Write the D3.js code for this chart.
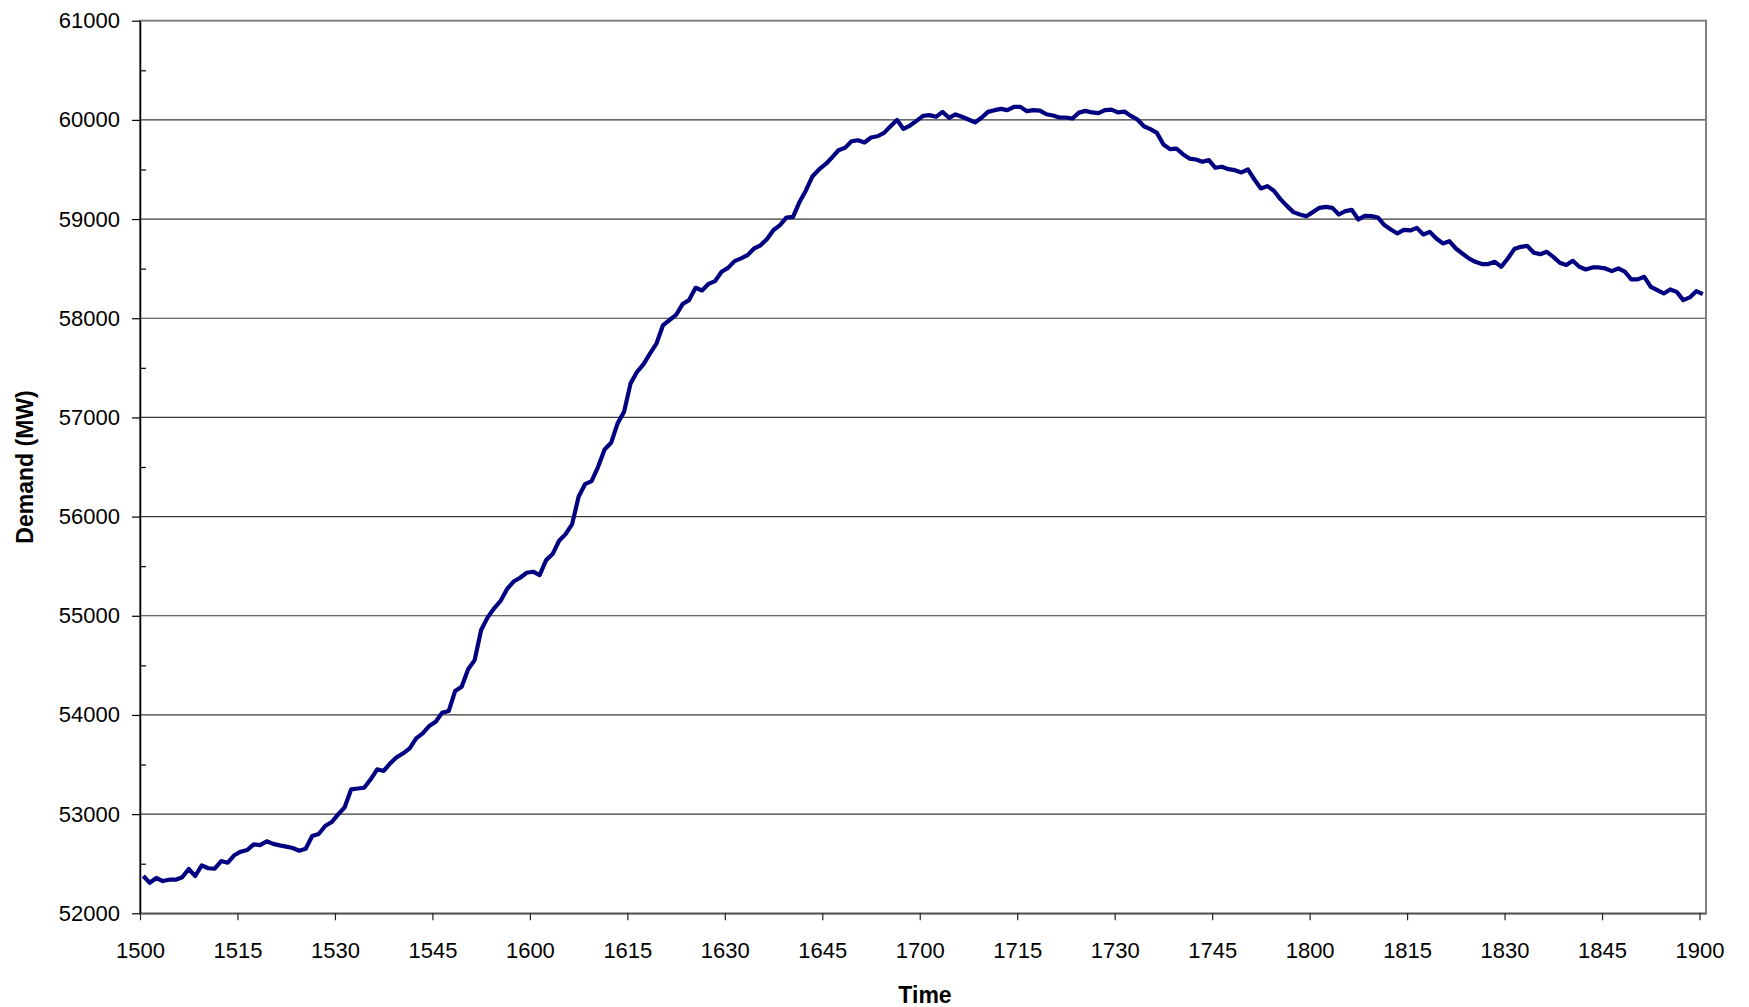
<!DOCTYPE html>
<html>
<head>
<meta charset="utf-8">
<script src="https://cdn.jsdelivr.net/npm/d3@7"></script>
<style>
  body { margin: 0; background: #fff; }
  svg { display: block; font-family: "Liberation Sans", Arial, sans-serif; }
</style>
</head>
<body>
<svg id="svg" width="1749" height="1007"></svg>
<script>
// tick labels on the time axis, one every 15 minutes
var tickLabels = ["1500","1515","1530","1545","1600","1615","1630","1645",
                  "1700","1715","1730","1745","1800","1815","1830","1845","1900"];

// demand (MW), one reading per minute from 1500 to 1900
var demand = [
  52376,52308,52356,52325,52339,52339,52363,52447,52376,52484,
  52454,52450,52527,52510,52585,52621,52638,52695,52688,52726,
  52700,52685,52672,52658,52631,52651,52779,52800,52880,52920,
  52998,53069,53250,53258,53266,53351,53452,53435,53512,53573,
  53613,53663,53764,53815,53888,53932,54022,54039,54241,54284,
  54460,54553,54856,54984,55075,55151,55270,55345,55383,55434,
  55444,55410,55561,55622,55756,55823,55924,56200,56328,56358,
  56502,56677,56744,56940,57057,57343,57460,57538,57646,57747,
  57931,57982,58033,58143,58183,58307,58280,58347,58374,58468,
  58508,58576,58603,58636,58703,58735,58800,58890,58939,59016,
  59022,59173,59291,59432,59500,59553,59621,59694,59718,59785,
  59795,59772,59822,59835,59869,59936,60000,59909,59943,59990,
  60040,60048,60031,60081,60021,60055,60031,60004,59974,60021,
  60081,60098,60111,60098,60131,60131,60088,60098,60094,60057,
  60044,60024,60024,60014,60073,60091,60075,60068,60098,60104,
  60075,60084,60040,60004,59936,59906,59869,59752,59705,59711,
  59654,59610,59600,59577,59594,59517,59527,59503,59493,59470,
  59500,59399,59309,59332,59285,59201,59133,59070,59046,59029,
  59070,59113,59123,59113,59046,59080,59093,58996,59032,59029,
  59016,58939,58895,58855,58890,58885,58911,58845,58871,58804,
  58754,58777,58703,58653,58603,58569,58546,58546,58569,58519,
  58603,58697,58720,58730,58660,58646,58670,58619,58559,58536,
  58579,58519,58492,58512,58512,58502,58475,58502,58469,58392,
  58392,58418,58317,58283,58250,58290,58266,58183,58210,58273,
  58243
];

var yTicks = [52000,53000,54000,55000,56000,57000,58000,59000,60000,61000];
var yMinor = [52500,53500,54500,55500,56500,57500,58500,59500,60500];

var plotLeft = 140, plotRight = 1706, plotTop = 20.7, plotBottom = 913.3;

var svg = d3.select("#svg");

var x = d3.scaleLinear().domain([0, demand.length]).range([plotLeft, plotRight]);
var y = d3.scaleLinear().domain([52000, 61000]).range([plotBottom, plotTop]);

// horizontal gridlines
svg.append("g")
  .selectAll("line")
  .data(yTicks.slice(1, -1))
  .join("line")
    .attr("x1", plotLeft).attr("x2", plotRight)
    .attr("y1", d => y(d)).attr("y2", d => y(d))
    .attr("stroke", "#3a3a3a")
    .attr("stroke-width", 1.2);

// plot area border
svg.append("rect")
  .attr("x", plotLeft).attr("y", plotTop)
  .attr("width", plotRight - plotLeft).attr("height", plotBottom - plotTop)
  .attr("fill", "none")
  .attr("stroke", "#808080")
  .attr("stroke-width", 2);

// y axis
var yAxis = svg.append("g")
  .attr("transform", "translate(" + plotLeft + ",0)")
  .call(d3.axisLeft(y).tickValues(yTicks).tickSize(8).tickPadding(12).tickSizeOuter(0)
          .tickFormat(d3.format("d")));
yAxis.select(".domain").attr("stroke", "#000").attr("stroke-width", 1.5);
yAxis.selectAll(".tick line").attr("stroke", "#000").attr("stroke-width", 1.2);
yAxis.selectAll("text").style("font-size", "22px").attr("fill", "#000");

// minor ticks, inside the plot
var yMinorAxis = svg.append("g")
  .attr("transform", "translate(" + plotLeft + ",0)")
  .call(d3.axisRight(y).tickValues(yMinor).tickSize(6).tickFormat(""));
yMinorAxis.select(".domain").remove();
yMinorAxis.selectAll(".tick line").attr("stroke", "#000").attr("stroke-width", 1.2);

// x axis
var xTickIdx = tickLabels.map((d, k) => k * 15);
var xAxis = svg.append("g")
  .attr("transform", "translate(0," + plotBottom + ")")
  .call(d3.axisBottom(x).tickValues(xTickIdx).tickSize(7).tickPadding(22).tickSizeOuter(0)
          .tickFormat((d, k) => tickLabels[k]));
xAxis.select(".domain").attr("stroke", "#555").attr("stroke-width", 1.5);
xAxis.selectAll(".tick line").attr("stroke", "#222").attr("stroke-width", 1.2);
xAxis.selectAll("text").style("font-size", "22px").attr("fill", "#000");

// demand line
var line = d3.line()
  .x((d, i) => x(i + 0.5))
  .y(d => y(d));

svg.append("path")
  .datum(demand)
  .attr("d", line)
  .attr("fill", "none")
  .attr("stroke", "#000080")
  .attr("stroke-width", 4.2)
  .attr("stroke-linejoin", "round");

// axis titles
svg.append("text")
  .attr("x", (plotLeft + plotRight) / 2 + 2)
  .attr("y", 1003)
  .attr("text-anchor", "middle")
  .style("font-size", "23px")
  .style("font-weight", "bold")
  .text("Time");

svg.append("text")
  .attr("transform", "translate(33," + ((plotTop + plotBottom) / 2) + ") rotate(-90)")
  .attr("text-anchor", "middle")
  .style("font-size", "23px")
  .style("font-weight", "bold")
  .text("Demand (MW)");
</script>
</body>
</html>
